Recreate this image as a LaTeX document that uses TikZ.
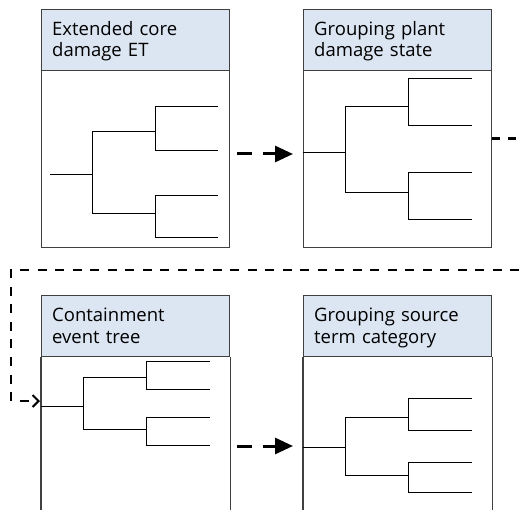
\documentclass[tikz,border=0pt]{standalone}
\usepackage{fontspec}
\setmainfont{Open Sans}
\usetikzlibrary{arrows.meta,calc}

\definecolor{hdrblue}{HTML}{DCE6F2}
\definecolor{boxgray}{HTML}{404040}

\tikzset{
    hdr/.style={draw=boxgray,line width=1.3pt,fill=hdrblue,anchor=north west,
        minimum width=188pt,minimum height=61pt,inner sep=0pt},
    hdrtext/.style={anchor=base west,inner sep=0pt,text width=175pt,
        align=left,font=\fontsize{18.5}{21}\selectfont},
    body/.style={draw=boxgray,line width=1.3pt,anchor=north west,
        minimum width=188pt,minimum height=177pt,inner sep=0pt},
    side/.style={draw=boxgray,line width=1.3pt},
    tree/.style={line width=1pt},
    flow/.style={line width=3pt,dash pattern=on 15pt off 11pt,
        -{Triangle[length=18pt,width=16pt]}},
    link/.style={line width=2pt,dash pattern=on 9pt off 8.5pt},
}

\begin{document}
\begin{tikzpicture}[x=1pt,y=-1pt]
    \useasboundingbox (0,0) rectangle (519,510);

    % upper row
    \node[body] (bodyET) at (41,70) {};
    \node[hdr] (hdrET) at (41,9) {};
    \node[hdrtext] (txtET) at ($(hdrET.north west)+(11,27)$) {Extended core\\damage ET};
    \node[body] (bodyPDS) at (303,70) {};
    \node[hdr] (hdrPDS) at (303,9) {};
    \node[hdrtext] (txtPDS) at ($(hdrPDS.north west)+(11,27)$) {Grouping plant\\damage state};

    % lower row, boxes run off the bottom
    \node[hdr] (hdrCET) at (41,295) {};
    \node[hdrtext] (txtCET) at ($(hdrCET.north west)+(11,27)$) {Containment\\event tree};
    \draw[side] (hdrCET.south west) -- (hdrCET.south west |- 0,510)
        (hdrCET.south east) -- (hdrCET.south east |- 0,510);
    \node[hdr] (hdrSTC) at (303,295) {};
    \node[hdrtext] (txtSTC) at ($(hdrSTC.north west)+(11,27)$) {Grouping source\\term category};
    \draw[side] (hdrSTC.south west) -- (hdrSTC.south west |- 0,510)
        (hdrSTC.south east) -- (hdrSTC.south east |- 0,510);

    % event trees
    \draw[tree] (50,175) -- (92,175) (92,132) -- (92,214)
        (92,132) -- (155,132) (92,214) -- (155,214)
        (155,107) -- (155,151) (155,196) -- (155,238);
    \foreach \y in {107,151,196,238}{
        \draw[tree] (155,\y) -- (218,\y);
    }
    \draw[tree] (303,153) -- (345,153) (345,107) -- (345,193)
        (345,107) -- (408,107) (345,193) -- (408,193)
        (408,79) -- (408,126) (408,173) -- (408,220);
    \foreach \y in {79,126,173,220}{
        \draw[tree] (408,\y) -- (472,\y);
    }
    \draw[tree] (41,406) -- (83,406) (83,377) -- (83,429)
        (83,377) -- (146,377) (83,429) -- (146,429)
        (146,361) -- (146,389) (146,417) -- (146,445);
    \foreach \y in {361,389,417,445}{
        \draw[tree] (146,\y) -- (210,\y);
    }
    \draw[tree] (303,447) -- (345,447) (345,417) -- (345,475)
        (345,417) -- (408,417) (345,475) -- (408,475)
        (408,398) -- (408,430) (408,462) -- (408,492);
    \foreach \y in {398,430,462,492}{
        \draw[tree] (408,\y) -- (472,\y);
    }

    % connectors
    \coordinate (outET) at (237,154);
    \coordinate (inPDS) at (293,154);
    \draw[flow] (outET) -- (inPDS);
    \coordinate (outCET) at (237,446);
    \coordinate (inSTC) at (293,446);
    \draw[flow] (outCET) -- (inSTC);

    \coordinate (outPDS) at (492,139);
    \coordinate (edgeR) at (519,139);
    \draw[line width=3pt,dash pattern=on 8pt off 8pt] (outPDS) -- (edgeR);
    \coordinate (backR) at (519,270);
    \coordinate (inCET) at (40,401);
    \draw[link,-{Straight Barb[length=6pt,width=12pt]}] (backR) -- (11,270) |- (inCET);
\end{tikzpicture}
\end{document}
